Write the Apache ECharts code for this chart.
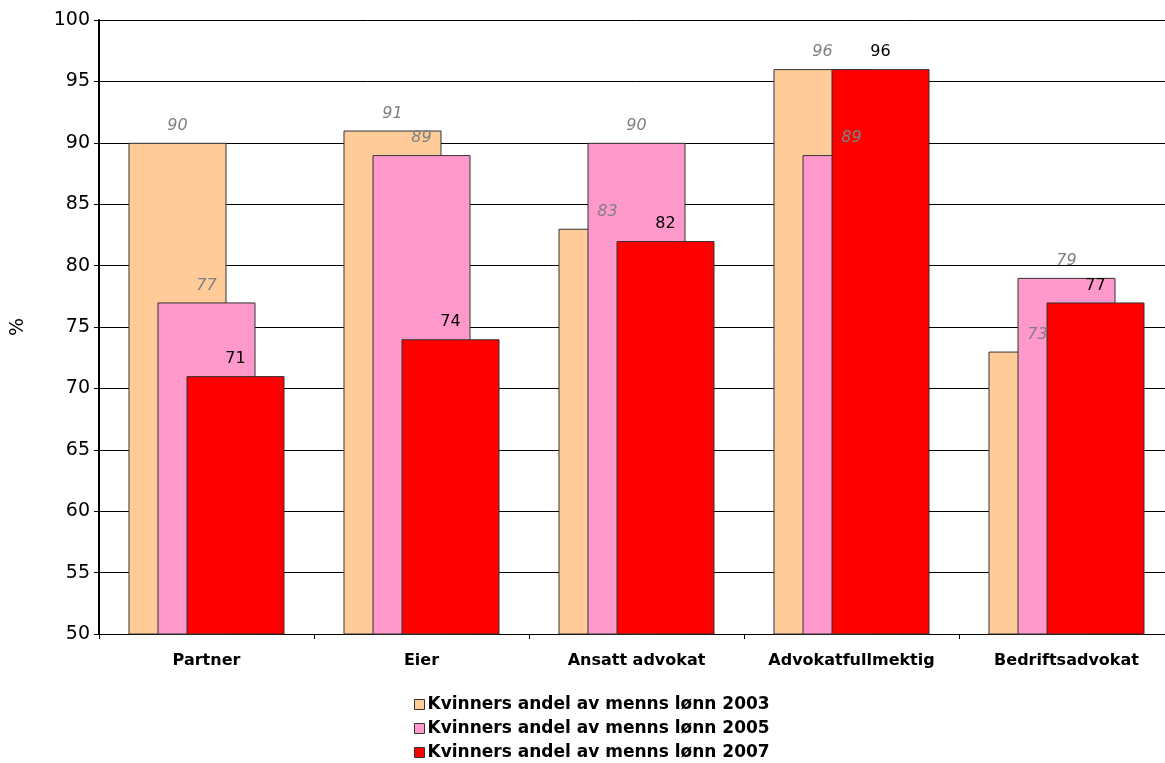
<!DOCTYPE html>
<html><head><meta charset="utf-8">
<script src="https://cdn.jsdelivr.net/npm/echarts@6/dist/echarts.min.js"></script>
<style>html,body{margin:0;padding:0;background:#fff;overflow:hidden;width:1165px;height:763px}#c{width:1180px;height:763px}</style>
</head><body><div id="c"></div>
<script>
var categories = ['Partner', 'Eier', 'Ansatt advokat', 'Advokatfullmektig', 'Bedriftsadvokat'];
var seriesNames = ['Kvinners andel av menns lønn 2003', 'Kvinners andel av menns lønn 2005', 'Kvinners andel av menns lønn 2007'];
var values2003 = [90, 91, 83, 96, 73];
var values2005 = [77, 89, 90, 89, 79];
var values2007 = [71, 74, 82, 96, 77];
var yTicks = {min: 50, max: 100, interval: 5};

var font = '"DejaVu Sans", Verdana, sans-serif';
function mk(name, data, color, labelColor, italic) {
  return {
    name: name, type: 'bar', data: data, barWidth: 98, barGap: '-70.4%',
    itemStyle: {color: color, borderColor: '#333', borderWidth: 1},
    label: {show: true, position: 'top', distance: 9, color: labelColor,
      fontStyle: italic ? 'italic' : 'normal', fontSize: 16, fontFamily: font}
  };
}
var chart = echarts.init(document.getElementById('c'));
chart.setOption({
  animation: false,
  textStyle: {fontFamily: font},
  grid: {left: 99, top: 20, width: 1075, height: 614},
  legend: {
    orient: 'vertical', left: 414, top: 696, padding: 0, itemWidth: 10, itemHeight: 10, itemGap: 7,
    icon: 'rect',
    textStyle: {fontSize: 17, fontWeight: 'bold', color: '#000', fontFamily: font, padding: [0,0,0,-2]},
    data: seriesNames.map(function(n){return {name: n, itemStyle: {borderColor: '#333', borderWidth: 1}};})
  },
  xAxis: {
    type: 'category', data: categories,
    axisLine: {lineStyle: {color: '#000', width: 1}},
    axisTick: {show: true, length: 5, lineStyle: {color: '#000'}},
    axisLabel: {interval: 0, fontSize: 16, fontWeight: 'bold', color: '#000', margin: 19, fontFamily: font}
  },
  yAxis: {
    type: 'value', min: yTicks.min, max: yTicks.max, interval: yTicks.interval,
    name: '%', nameLocation: 'middle', nameGap: 71, nameRotate: 90,
    nameTextStyle: {fontSize: 19, color: '#000', fontFamily: font},
    axisLine: {show: true, lineStyle: {color: '#000', width: 2}},
    axisTick: {show: true, length: 5, lineStyle: {color: '#000'}},
    axisLabel: {fontSize: 19, color: '#000', margin: 9, fontFamily: font},
    splitLine: {lineStyle: {color: '#000', width: 1}}
  },
  series: [
    mk(seriesNames[0], values2003, '#FFCC99', '#808080', true),
    mk(seriesNames[1], values2005, '#FF99CC', '#808080', true),
    mk(seriesNames[2], values2007, '#FF0000', '#000', false)
  ]
});
</script></body></html>
